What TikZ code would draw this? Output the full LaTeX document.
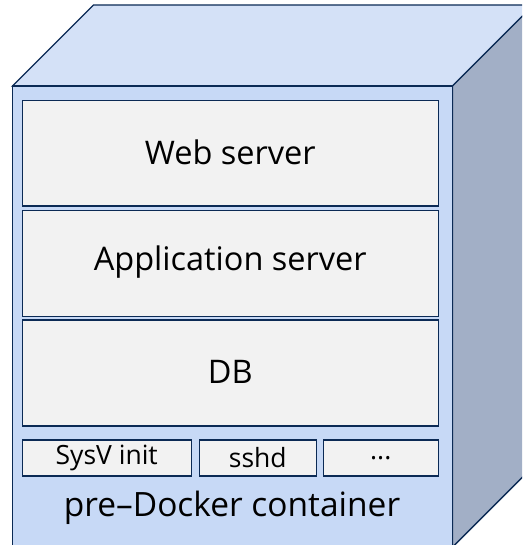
\documentclass[tikz,border=0pt]{standalone}
\usepackage{fontspec}
\setmainfont{Open Sans}
\definecolor{navy}{HTML}{0B2A55}
\definecolor{topface}{HTML}{D4E1F7}
\definecolor{frontface}{HTML}{C7D9F6}
\definecolor{sideface}{HTML}{A2AFC6}
\definecolor{layerfill}{HTML}{F2F2F2}
\tikzset{
  edge/.style={draw=navy, line width=1.4pt, line join=miter},
  layer/.style={draw=navy, line width=1.5pt, fill=layerfill, inner sep=0pt, anchor=north west},
  biglabel/.style={font=\fontsize{32.5}{38}\selectfont, text=black},
  baselabel/.style={font=\fontsize{33.5}{40}\selectfont, text=black},
  smalllabel/.style={font=\fontsize{26.5}{32}\selectfont, text=black},
}
\begin{document}
\begin{tikzpicture}[x=1pt,y=-1pt]
\useasboundingbox (0,0) rectangle (522,545);
\begin{scope}
\clip (0,0) rectangle (522,545);
% top face
\draw[edge, fill=topface] (12.5,86) -- (93.5,5) -- (533.5,5) -- (452.5,86) -- cycle;
% right face
\draw[edge, fill=sideface] (452.5,86) -- (533.5,5) -- (533.5,466) -- (452.5,547) -- cycle;
% front face
\draw[edge, fill=frontface] (12.5,86) rectangle (452.5,547);
\end{scope}
% layers
\node[layer, minimum width=416pt, minimum height=105pt] (web) at (21.5,100) {};
\node[biglabel] at ([yshift=1pt]web.center) {Web server};
\node[layer, minimum width=416pt, minimum height=106pt] (app) at (21.5,209.5) {};
\node[biglabel] at ([yshift=1pt]app.center) {Application server};
\node[layer, minimum width=416pt, minimum height=106pt] (db) at (21.5,319) {};
\node[biglabel] at ([yshift=1pt]db.center) {DB};
\node[layer, minimum width=169pt, minimum height=36pt] (sysv) at (21.5,439) {};
\node[smalllabel] at (sysv.center) {SysV init};
\node[layer, minimum width=117pt, minimum height=36pt] (sshd) at (198.5,439) {};
\node[smalllabel] at (sshd.center) {sshd};
\node[layer, minimum width=115pt, minimum height=36pt] (more) at (322.5,439) {};
\node[smalllabel] at (more.center) {...};
\node[baselabel] (label) at (232,508) {pre–Docker container};
\end{tikzpicture}
\end{document}
